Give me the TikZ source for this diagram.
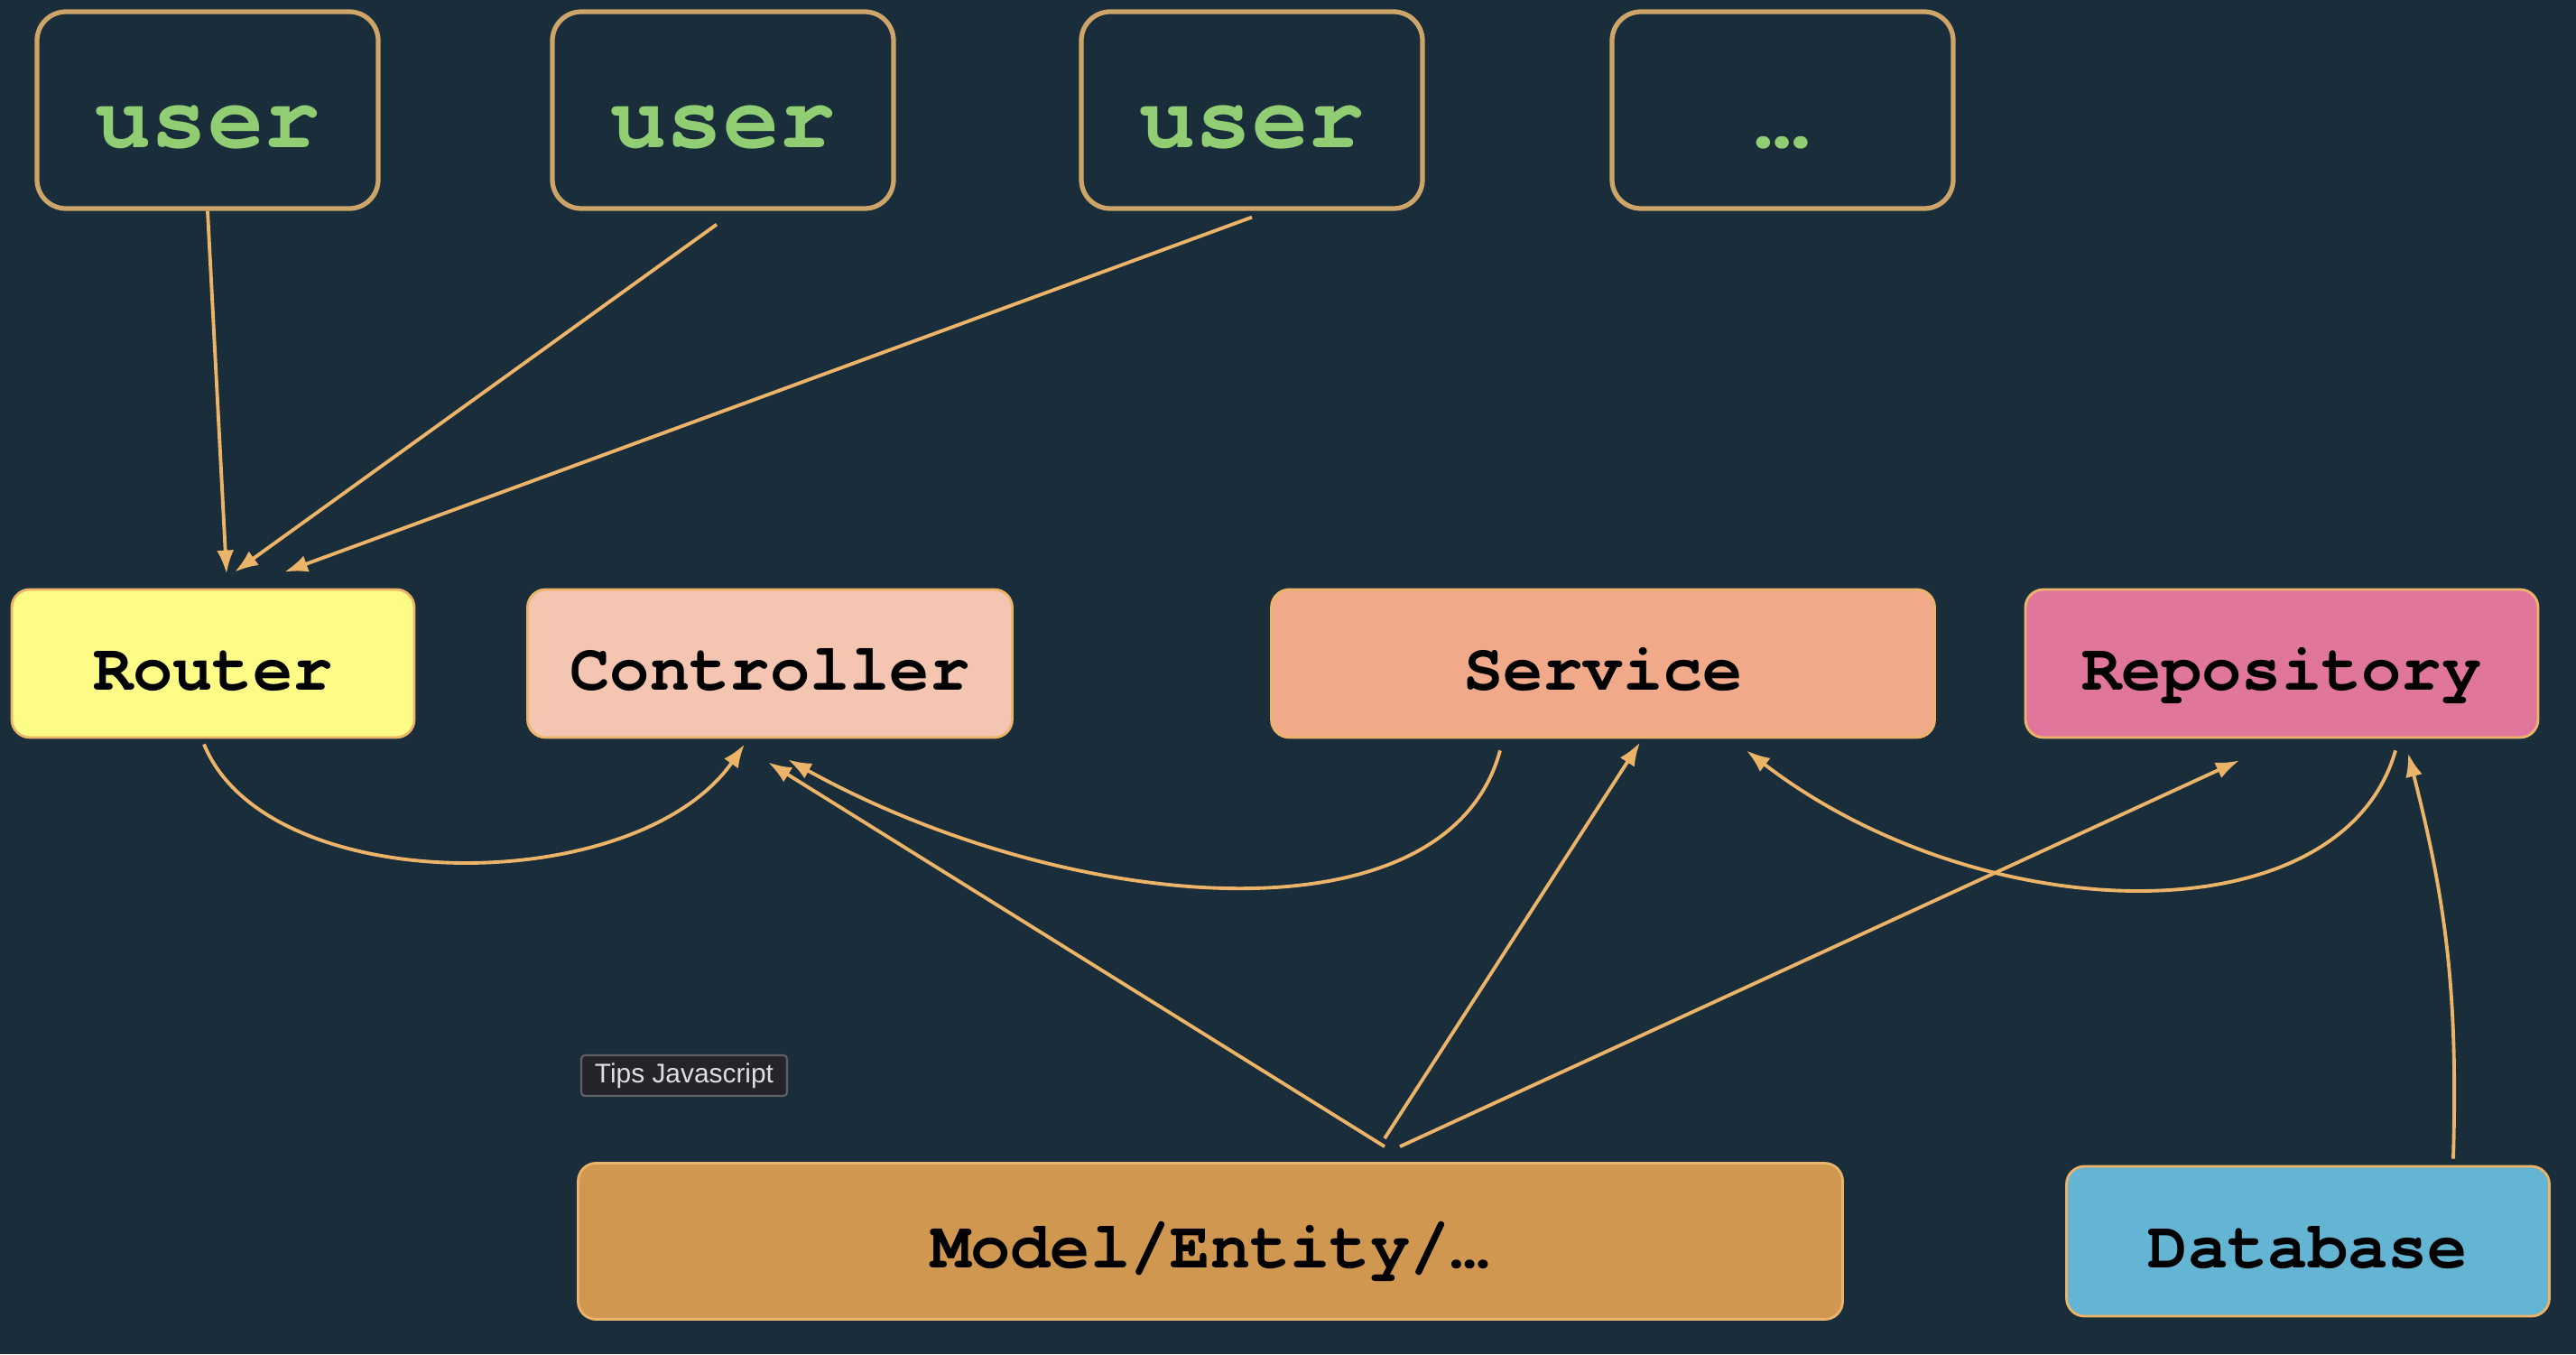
\documentclass[tikz,border=0pt]{standalone}
\usepackage{fontspec}
\setmainfont{Liberation Sans}
\setmonofont{TeX Gyre Cursor}
\usetikzlibrary{arrows.meta}

\definecolor{bgnavy}{RGB}{26,45,59}
\definecolor{wire}{RGB}{236,180,105}
\definecolor{userrim}{RGB}{205,165,105}
\definecolor{usergreen}{RGB}{145,205,115}
\definecolor{routerfill}{RGB}{253,252,135}
\definecolor{ctrlfill}{RGB}{244,197,176}
\definecolor{servfill}{RGB}{240,170,138}
\definecolor{repofill}{RGB}{224,118,156}
\definecolor{modelfill}{RGB}{208,151,80}
\definecolor{dbfill}{RGB}{100,180,212}
\definecolor{tipfill}{RGB}{36,36,42}
\definecolor{tiprim}{RGB}{95,95,100}

\begin{document}
\begin{tikzpicture}[
  userbox/.style={draw=userrim, line width=1.5pt, rounded corners=0.32cm,
    minimum width=3.78cm, minimum height=2.18cm, text=usergreen,
    font=\ttfamily\bfseries\fontsize{29.5}{32}\selectfont,
    text height=1.0cm, text depth=0.16cm},
  layer/.style={draw=wire, line width=0.8pt, rounded corners=0.2cm,
    minimum height=1.64cm, text=black,
    font=\ttfamily\bfseries\fontsize{21}{24}\selectfont,
    text height=0.7cm, text depth=0.12cm},
  tipbox/.style={draw=tiprim, fill=tipfill, line width=0.6pt, rounded corners=0.04cm,
    minimum width=2.28cm, minimum height=0.45cm, inner sep=0pt,
    text={rgb,255:red,222;green,222;blue,222}, font=\fontsize{8.5}{10}\selectfont},
  wirearrow/.style={draw=wire, line width=1.1pt, -{Latex[length=0.26cm,width=0.19cm]}}
]
\fill[bgnavy] (0,0) rectangle (28.54,15);

\node[userbox] (u1) at (2.30,13.78) {user};
\node[userbox] (u2) at (8.01,13.78) {user};
\node[userbox] (u3) at (13.87,13.78) {user};
\node[userbox] (more) at (19.75,13.78) {…};

\node[layer, fill=routerfill, minimum width=4.46cm] (router) at (2.36,7.65) {Router};
\node[layer, fill=ctrlfill, minimum width=5.37cm] (ctrl) at (8.53,7.65) {Controller};
\node[layer, fill=servfill, minimum width=7.35cm] (service) at (17.76,7.65) {Service};
\node[layer, fill=repofill, minimum width=5.68cm] (repo) at (25.28,7.65) {Repository};
\node[layer, fill=modelfill, minimum width=14.01cm, minimum height=1.73cm] (model) at (13.41,1.25) {Model/Entity/…};
\node[layer, fill=dbfill, minimum width=5.35cm, minimum height=1.66cm] (db) at (25.57,1.25) {Database};

\node[tipbox] (tips) at (7.58,3.085) {Tips Javascript};

\draw[wirearrow] (u1.south) -- ([xshift=0.15cm,yshift=0.16cm]router.north);
\draw[wirearrow] ([xshift=-0.07cm,yshift=-0.15cm]u2.south) -- ([xshift=0.24cm,yshift=0.18cm]router.north);
\draw[wirearrow] ([yshift=-0.07cm]u3.south) -- ([xshift=0.79cm,yshift=0.18cm]router.north);

\draw[wirearrow] ([xshift=-0.1cm,yshift=-0.06cm]router.south) .. controls +(0.7,-1.72) and +(-1.2,-1.72) .. ([xshift=-0.28cm,yshift=-0.06cm]ctrl.south);
\draw[wirearrow] ([xshift=-1.14cm,yshift=-0.13cm]service.south) .. controls +(-0.6,-2.2) and +(3.07,-1.7) .. ([xshift=0.2cm,yshift=-0.23cm]ctrl.south);
\draw[wirearrow] ([xshift=1.26cm,yshift=-0.13cm]repo.south) .. controls +(-0.6,-2.1) and +(2.6,-2.0) .. ([xshift=1.59cm,yshift=-0.13cm]service.south);

\draw[wirearrow] ([xshift=1.93cm,yshift=0.17cm]model.north) -- ([xshift=-0.02cm,yshift=-0.26cm]ctrl.south);
\draw[wirearrow] ([xshift=1.93cm,yshift=0.26cm]model.north) -- ([xshift=0.41cm,yshift=-0.04cm]service.south);
\draw[wirearrow] ([xshift=2.10cm,yshift=0.17cm]model.north) -- ([xshift=-0.47cm,yshift=-0.24cm]repo.south);
\draw[wirearrow] ([xshift=1.61cm,yshift=0.07cm]db.north) to[bend right=8] ([xshift=1.40cm,yshift=-0.16cm]repo.south);
\end{tikzpicture}
\end{document}
